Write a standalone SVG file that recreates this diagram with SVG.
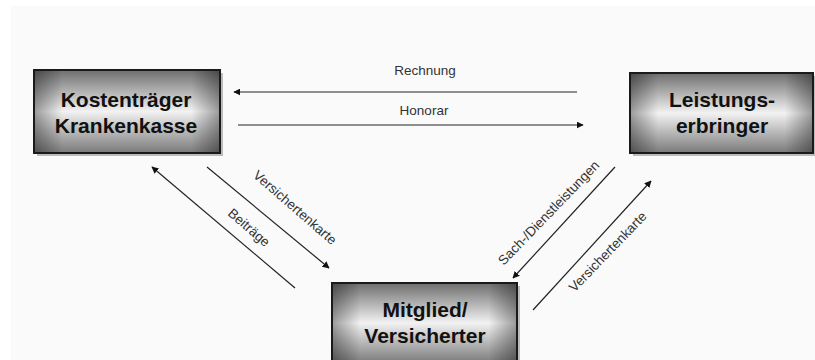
<svg xmlns="http://www.w3.org/2000/svg" width="815" height="360" viewBox="0 0 815 360">
<defs>
<linearGradient id="gv" x1="0" y1="0" x2="0" y2="1">
<stop offset="0" stop-color="#6e6e6e"/>
<stop offset="0.5" stop-color="#f2f2f2"/>
<stop offset="1" stop-color="#7a7a7a"/>
</linearGradient>
<linearGradient id="gh" x1="0" y1="0" x2="1" y2="0">
<stop offset="0" stop-color="#000" stop-opacity="0.35"/>
<stop offset="0.15" stop-color="#000" stop-opacity="0"/>
<stop offset="0.85" stop-color="#000" stop-opacity="0"/>
<stop offset="1" stop-color="#000" stop-opacity="0.35"/>
</linearGradient>
<marker id="ah" viewBox="0 0 10 10" refX="9" refY="5" markerWidth="7" markerHeight="7" markerUnits="userSpaceOnUse" orient="auto">
<path d="M0,0 L10,5 L0,10 z" fill="#111"/>
</marker>
<style>
.box{fill:url(#gv);stroke:#1a1a1a;stroke-width:2}
.vig{fill:url(#gh)}
.shadow{fill:#000;opacity:0.25}
.nt{font-family:"Liberation Sans",Arial,sans-serif;font-weight:bold;font-size:21px;fill:#111;text-anchor:middle}
.lt{font-family:"Liberation Sans",Arial,sans-serif;font-size:13.5px;fill:#333;text-anchor:middle}
.cn{stroke:#222;stroke-width:1.2;fill:none;marker-end:url(#ah)}
</style>
</defs>
<rect x="0" y="0" width="815" height="360" fill="#fff"/>
<rect x="11" y="6" width="804" height="354" fill="#fafafa"/>

<g id="node-kostentraeger">
<rect class="shadow" x="37" y="73" width="186" height="83"/>
<rect class="box" x="34" y="70" width="186" height="83"/>
<rect class="vig" x="35" y="71" width="184" height="81"/>
<text class="nt" x="126" y="107">Kostenträger</text>
<text class="nt" x="126" y="133">Krankenkasse</text>
</g>

<g id="node-leistungserbringer">
<rect class="shadow" x="633" y="76" width="183" height="80"/>
<rect class="box" x="630" y="73" width="183" height="80"/>
<rect class="vig" x="631" y="74" width="181" height="78"/>
<text class="nt" x="722" y="107">Leistungs-</text>
<text class="nt" x="722" y="133">erbringer</text>
</g>

<g id="node-mitglied">
<rect class="shadow" x="335" y="286" width="185" height="80"/>
<rect class="box" x="332" y="283" width="185" height="80"/>
<rect class="vig" x="333" y="284" width="183" height="78"/>
<text class="nt" x="425" y="317">Mitglied/</text>
<text class="nt" x="425" y="343">Versicherter</text>
</g>

<g id="connectors">
<line class="cn" x1="577" y1="92" x2="234" y2="92"/>
<line class="cn" x1="238" y1="125" x2="583" y2="125"/>
<line class="cn" x1="295" y1="288" x2="152" y2="167"/>
<line class="cn" x1="207" y1="167" x2="329" y2="268"/>
<line class="cn" x1="615" y1="167" x2="513" y2="278"/>
<line class="cn" x1="533" y1="310" x2="651" y2="181"/>
<text class="lt" x="425" y="75">Rechnung</text>
<text class="lt" x="424" y="115">Honorar</text>
<text class="lt" transform="translate(292 211) rotate(41)">Versichertenkarte</text>
<text class="lt" transform="translate(246 231) rotate(41)">Beiträge</text>
<text class="lt" transform="translate(552 216) rotate(-46)">Sach-/Dienstleistungen</text>
<text class="lt" transform="translate(611 255) rotate(-46)">Versichertenkarte</text>
</g>
</svg>
